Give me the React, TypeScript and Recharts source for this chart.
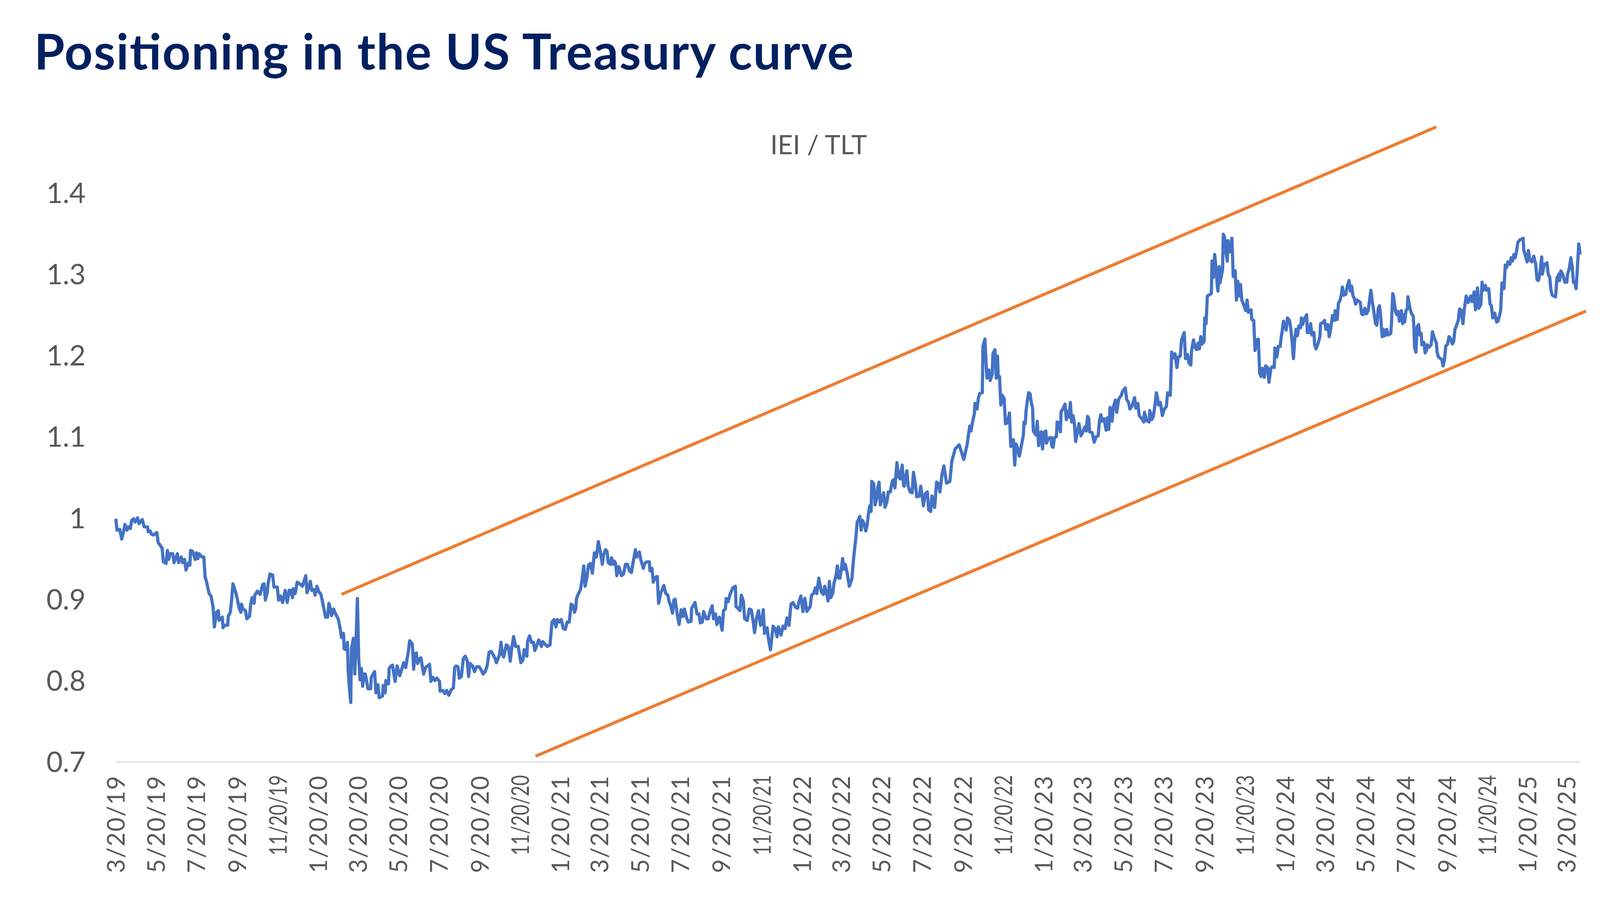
import React from 'react';
import { LineChart, Line, XAxis, YAxis, ReferenceLine } from 'recharts';

// x values are days since 3/20/19 (first observation); y values are the IEI / TLT ratio
const s2019: [number, number][] = [
  [0,0.999],[2,0.985],[6,0.986],[9,0.974],[12,0.984],[14,0.992],[17,0.985],[19,0.989],[22,0.987],[24,0.997],[27,0.999],[29,0.995],[33,1.000],[35,0.993],[40,0.998],[43,0.989],[48,0.989],[49,0.983],[52,0.984],[54,0.980],[57,0.979],[62,0.982],[64,0.970],[70,0.963],[72,0.946],[76,0.944],[78,0.960],[80,0.949],[82,0.956],[86,0.956],[88,0.945],[93,0.956],[95,0.945],[99,0.952],[101,0.945],[104,0.949],[106,0.936],[110,0.945],[112,0.942],[113,0.960],[116,0.959],[120,0.949],[122,0.957],[124,0.950],[126,0.956],[130,0.952],[133,0.952],[135,0.927],[137,0.922],[141,0.907],[144,0.904],[147,0.890],[149,0.866],[152,0.884],[155,0.886],[156,0.874],[161,0.878],[162,0.865],[165,0.868],[169,0.868],[170,0.879],[173,0.884],[175,0.899],[177,0.919],[181,0.909],[184,0.899],[186,0.890],[189,0.884],[190,0.894],[192,0.888],[196,0.886],[198,0.876],[202,0.879],[204,0.895],[206,0.902],[209,0.895],[210,0.905],[214,0.910],[218,0.906],[222,0.918],[224,0.919],[226,0.899],[229,0.909],[230,0.919],[233,0.931],[237,0.930],[239,0.915],[244,0.915],[246,0.899],[249,0.904],[252,0.896],[256,0.911],[259,0.896],[262,0.911],[264,0.911],[267,0.902],[268,0.913],[271,0.907],[274,0.921],[278,0.919],[282,0.916],[287,0.929],[289,0.908],[294,0.922],[296,0.911],[299,0.912],[301,0.905],[304,0.916],[307,0.909],[310,0.906]
];
const s2020: [number, number][] = [
  [314,0.890],[317,0.878],[320,0.878],[322,0.895],[324,0.889],[326,0.880],[329,0.888],[332,0.882],[336,0.876],[339,0.864],[341,0.853],[344,0.858],[345,0.839],[348,0.838],[350,0.847],[351,0.813],[353,0.790],[355,0.773],[356,0.839],[359,0.852],[361,0.808],[363,0.849],[365,0.901],[367,0.827],[369,0.801],[371,0.815],[373,0.793],[375,0.808],[377,0.808],[381,0.790],[385,0.790],[386,0.804],[391,0.811],[393,0.785],[396,0.795],[398,0.779],[403,0.781],[404,0.794],[407,0.785],[408,0.800],[412,0.796],[413,0.815],[416,0.818],[418,0.819],[422,0.799],[425,0.818],[429,0.806],[435,0.822],[438,0.816],[442,0.836],[444,0.849],[448,0.845],[450,0.814],[452,0.833],[454,0.834],[456,0.821],[459,0.827],[461,0.828],[465,0.808],[468,0.816],[471,0.818],[474,0.820],[476,0.799],[479,0.804],[482,0.800],[485,0.803],[489,0.799],[490,0.787],[494,0.788],[497,0.784],[500,0.788],[503,0.782],[507,0.789],[510,0.791],[512,0.816],[514,0.818],[517,0.817],[519,0.803],[522,0.805],[525,0.827],[528,0.830],[531,0.824],[533,0.805],[535,0.821],[539,0.818],[542,0.811],[545,0.817],[549,0.817],[552,0.813],[555,0.808],[558,0.811],[561,0.818],[564,0.835],[567,0.836],[570,0.832],[573,0.827],[575,0.822],[578,0.828],[580,0.833],[582,0.847],[584,0.832],[586,0.829],[590,0.844],[593,0.842],[596,0.824],[598,0.839],[601,0.854],[604,0.842],[608,0.842],[612,0.822],[615,0.825],[617,0.838],[621,0.830],[622,0.848],[625,0.855],[628,0.847]
];
const s2021: [number, number][] = [
  [631,0.847],[633,0.837],[635,0.841],[639,0.850],[643,0.842],[645,0.848],[648,0.845],[652,0.842],[656,0.844],[659,0.872],[662,0.875],[665,0.866],[667,0.875],[670,0.872],[673,0.875],[676,0.864],[679,0.863],[682,0.872],[685,0.872],[688,0.894],[691,0.892],[693,0.884],[695,0.889],[696,0.901],[699,0.907],[702,0.912],[704,0.922],[707,0.941],[709,0.916],[712,0.928],[714,0.942],[717,0.944],[720,0.932],[723,0.957],[726,0.952],[729,0.971],[732,0.958],[735,0.943],[737,0.955],[740,0.961],[742,0.959],[744,0.945],[747,0.943],[749,0.951],[751,0.943],[753,0.947],[755,0.944],[757,0.929],[760,0.940],[764,0.929],[767,0.931],[770,0.943],[773,0.943],[776,0.935],[779,0.933],[781,0.943],[785,0.961],[787,0.952],[791,0.958],[793,0.949],[797,0.938],[799,0.944],[802,0.946],[806,0.946],[807,0.935],[810,0.938],[812,0.921],[815,0.927],[818,0.928],[820,0.895],[823,0.907],[828,0.917],[831,0.907],[834,0.905],[836,0.897],[838,0.893],[841,0.883],[843,0.899],[845,0.900],[848,0.882],[851,0.869],[854,0.887],[857,0.879],[859,0.888],[862,0.878],[865,0.872],[869,0.873],[870,0.889],[873,0.893],[875,0.896],[878,0.882],[881,0.882],[883,0.871],[886,0.872],[888,0.885],[892,0.876],[895,0.876],[898,0.886],[901,0.892],[903,0.876],[906,0.882],[908,0.869],[912,0.878],[916,0.862],[918,0.886],[921,0.888],[922,0.901],[925,0.897],[928,0.906],[932,0.914],[936,0.916],[937,0.891],[940,0.889],[943,0.886],[945,0.905],[948,0.898],[950,0.876],[954,0.874],[957,0.888]
];
const s2022a: [number, number][] = [
  [960,0.887],[963,0.872],[965,0.859],[968,0.877],[971,0.886],[974,0.868],[976,0.870],[978,0.887],[980,0.858],[984,0.865],[986,0.851],[989,0.838],[993,0.867],[996,0.864],[999,0.854],[1001,0.866],[1005,0.856],[1008,0.867],[1011,0.864],[1014,0.877],[1017,0.868],[1020,0.894],[1023,0.896],[1027,0.890],[1030,0.889],[1032,0.897],[1035,0.904],[1038,0.885],[1041,0.901],[1044,0.885],[1049,0.891],[1051,0.905],[1054,0.907],[1057,0.914],[1059,0.907],[1062,0.926],[1066,0.909],[1069,0.906],[1071,0.916],[1074,0.907],[1076,0.898],[1078,0.922],[1080,0.902],[1083,0.907],[1085,0.920],[1088,0.929],[1090,0.941],[1092,0.926],[1094,0.926],[1096,0.937],[1098,0.950],[1100,0.937],[1102,0.943],[1105,0.932],[1108,0.916],[1112,0.925],[1114,0.945],[1116,0.961],[1118,0.976],[1120,0.995],[1122,0.998],[1124,1.002],[1126,0.985],[1128,0.997],[1131,0.992],[1133,0.984],[1135,0.991],[1137,1.005],[1139,1.015],[1141,1.008],[1142,1.045],[1145,1.042],[1147,1.016],[1150,1.026],[1151,1.037],[1153,1.044],[1155,1.016],[1158,1.026],[1160,1.031],[1162,1.013],[1165,1.020],[1167,1.032],[1170,1.032],[1173,1.045],[1175,1.047],[1177,1.037],[1180,1.068],[1183,1.050],[1185,1.048],[1188,1.065],[1190,1.040],[1191,1.039],[1195,1.058],[1197,1.039],[1200,1.032],[1203,1.031],[1205,1.056],[1208,1.041],[1210,1.026],[1214,1.027],[1216,1.039],[1218,1.028],[1220,1.015],[1223,1.030],[1226,1.032],[1228,1.010],[1231,1.008],[1233,1.027],[1237,1.013],[1240,1.044],[1243,1.042],[1245,1.032],[1248,1.053],[1251,1.064],[1255,1.043],[1258,1.044],[1260,1.045],[1263,1.070],[1268,1.085],[1274,1.090],[1281,1.072],[1286,1.090]
];
const s2022b: [number, number][] = [
  [1290,1.113],[1292,1.107],[1294,1.117],[1297,1.128],[1298,1.141],[1301,1.134],[1303,1.147],[1305,1.153],[1309,1.154],[1310,1.211],[1313,1.220],[1315,1.185],[1316,1.172],[1319,1.182],[1321,1.169],[1324,1.177],[1325,1.202],[1328,1.207],[1330,1.172],[1332,1.199],[1333,1.173],[1335,1.174],[1337,1.139],[1339,1.151],[1342,1.147],[1344,1.116],[1347,1.117],[1350,1.129],[1352,1.088],[1354,1.096],[1356,1.096],[1358,1.065],[1360,1.091],[1362,1.087],[1365,1.076],[1368,1.089],[1371,1.102],[1372,1.118],[1374,1.116],[1375,1.131],[1377,1.144],[1379,1.154],[1381,1.153],[1383,1.142],[1385,1.135],[1386,1.107],[1390,1.102],[1392,1.119],[1394,1.089],[1396,1.096],[1398,1.106],[1400,1.085],[1402,1.105],[1405,1.107],[1406,1.092],[1409,1.098],[1413,1.099],[1414,1.088],[1416,1.087],[1418,1.099],[1421,1.100],[1422,1.118],[1425,1.117],[1427,1.106],[1428,1.131],[1430,1.133],[1434,1.140],[1436,1.121],[1438,1.131],[1440,1.124],[1442,1.142],[1444,1.118],[1446,1.126],[1448,1.117],[1450,1.094],[1452,1.103],[1455,1.116],[1458,1.101],[1461,1.106],[1464,1.112],[1466,1.107],[1468,1.125],[1470,1.122],[1471,1.106],[1475,1.105],[1478,1.093],[1481,1.100],[1484,1.101],[1486,1.119],[1488,1.127],[1490,1.119],[1493,1.122],[1496,1.108],[1498,1.123],[1500,1.109],[1502,1.136],[1505,1.119],[1507,1.136],[1510,1.145],[1512,1.130],[1515,1.146],[1519,1.151],[1521,1.156],[1525,1.160],[1527,1.146],[1530,1.142],[1532,1.134],[1535,1.137],[1539,1.148],[1541,1.135],[1544,1.141],[1546,1.126],[1550,1.122],[1553,1.118],[1554,1.130],[1557,1.120],[1561,1.118],[1562,1.132],[1565,1.121],[1567,1.124],[1569,1.134],[1572,1.154],[1574,1.146],[1575,1.139],[1578,1.142],[1581,1.126],[1584,1.134],[1587,1.137],[1589,1.154],[1593,1.151],[1595,1.204],[1598,1.197],[1600,1.202],[1603,1.185],[1605,1.198],[1608,1.199],[1610,1.219],[1614,1.228],[1616,1.196]
];
const s2023: [number, number][] = [
  [1619,1.201],[1621,1.191],[1624,1.188],[1625,1.205],[1628,1.219],[1631,1.209],[1633,1.207],[1635,1.215],[1637,1.208],[1639,1.223],[1641,1.214],[1644,1.217],[1645,1.246],[1647,1.239],[1649,1.273],[1653,1.275],[1655,1.276],[1656,1.316],[1658,1.296],[1660,1.324],[1662,1.308],[1664,1.285],[1665,1.279],[1667,1.309],[1668,1.289],[1670,1.297],[1672,1.306],[1673,1.349],[1675,1.345],[1677,1.328],[1679,1.316],[1680,1.341],[1682,1.327],[1683,1.332],[1686,1.344],[1687,1.323],[1688,1.297],[1691,1.304],[1693,1.268],[1695,1.291],[1698,1.273],[1699,1.287],[1701,1.268],[1703,1.264],[1705,1.259],[1707,1.255],[1709,1.268],[1711,1.253],[1715,1.256],[1716,1.244],[1719,1.243],[1721,1.206],[1724,1.219],[1726,1.220],[1728,1.178],[1730,1.174],[1732,1.184],[1735,1.173],[1737,1.187],[1740,1.185],[1742,1.167],[1745,1.184],[1747,1.186],[1750,1.185],[1751,1.209],[1754,1.198],[1756,1.211],[1759,1.211],[1760,1.219],[1762,1.230],[1764,1.242],[1766,1.236],[1768,1.231],[1770,1.246],[1773,1.243],[1775,1.233],[1777,1.217],[1779,1.196],[1781,1.220],[1783,1.232],[1785,1.224],[1787,1.236],[1790,1.234],[1791,1.246],[1793,1.238],[1795,1.244],[1799,1.250],[1800,1.228],[1803,1.228],[1805,1.239],[1807,1.225],[1810,1.228],[1811,1.213],[1813,1.208],[1816,1.214],[1819,1.223],[1820,1.239],[1823,1.240],[1826,1.243],[1828,1.232],[1831,1.238],[1833,1.223],[1835,1.231],[1838,1.249],[1841,1.243],[1842,1.255],[1845,1.244],[1847,1.264],[1849,1.267],[1851,1.273],[1853,1.284],[1855,1.274],[1858,1.275],[1860,1.284],[1863,1.292],[1865,1.279],[1867,1.285],[1869,1.273],[1871,1.270],[1873,1.263],[1875,1.268],[1877,1.267],[1880,1.265],[1882,1.251],[1884,1.250],[1887,1.258],[1889,1.251],[1892,1.255],[1894,1.268],[1896,1.280],[1898,1.267],[1900,1.256],[1903,1.239],[1905,1.237],[1907,1.257],[1909,1.261],[1911,1.246],[1913,1.223],[1915,1.232],[1917,1.224],[1920,1.232],[1922,1.225]
];
const s2024: [number, number][] = [
  [1926,1.227],[1927,1.238],[1929,1.276],[1930,1.274],[1933,1.255],[1935,1.250],[1937,1.254],[1939,1.242],[1942,1.255],[1944,1.239],[1946,1.250],[1947,1.241],[1949,1.255],[1951,1.257],[1952,1.272],[1955,1.258],[1957,1.252],[1960,1.248],[1961,1.233],[1962,1.210],[1964,1.204],[1966,1.235],[1968,1.238],[1970,1.225],[1972,1.227],[1973,1.213],[1976,1.216],[1978,1.203],[1980,1.206],[1981,1.213],[1984,1.210],[1987,1.213],[1989,1.229],[1992,1.221],[1995,1.215],[1996,1.204],[1998,1.198],[2001,1.196],[2003,1.195],[2005,1.187],[2007,1.193],[2009,1.211],[2012,1.214],[2014,1.223],[2016,1.221],[2019,1.214],[2021,1.217],[2023,1.232],[2025,1.236],[2028,1.243],[2030,1.257],[2032,1.256],[2035,1.239],[2037,1.256],[2040,1.273],[2043,1.265],[2047,1.273],[2049,1.266],[2052,1.278],[2054,1.256],[2057,1.283],[2059,1.258],[2062,1.262],[2064,1.290],[2066,1.280],[2069,1.286],[2071,1.280],[2074,1.282],[2076,1.263],[2078,1.261],[2080,1.246],[2083,1.252],[2086,1.241],[2088,1.242],[2090,1.248],[2092,1.255],[2094,1.289],[2097,1.282],[2099,1.311],[2101,1.308],[2103,1.315],[2106,1.312],[2108,1.320],[2110,1.316],[2112,1.324],[2114,1.320],[2116,1.328],[2118,1.339],[2121,1.342],[2124,1.343],[2126,1.344],[2127,1.329],[2129,1.324],[2132,1.315],[2134,1.329],[2136,1.317],[2139,1.315],[2142,1.322],[2145,1.312],[2147,1.293],[2149,1.292],[2151,1.299],[2154,1.321],[2155,1.300],[2158,1.312],[2160,1.312],[2162,1.314],[2164,1.299],[2166,1.297],[2168,1.280],[2170,1.274],[2172,1.273],[2175,1.272],[2177,1.295],[2180,1.300],[2181,1.292],[2183,1.304],[2186,1.299],[2189,1.290],[2192,1.290],[2193,1.299],[2196,1.308],[2198,1.320],[2200,1.309],[2202,1.290],[2204,1.290],[2206,1.282],[2208,1.308],[2210,1.337],[2212,1.324]
];

// channel lines drawn on the chart (start / end in data coordinates)
const upperChannel = [{ day: 341, ratio: 0.906 }, { day: 1995, ratio: 1.481 }];
const lowerChannel = [{ day: 634, ratio: 0.707 }, { day: 2221, ratio: 1.2545 }];

const xTickLabels = [
  '3/20/19','5/20/19','7/20/19','9/20/19','11/20/19','1/20/20','3/20/20','5/20/20','7/20/20','9/20/20','11/20/20',
  '1/20/21','3/20/21','5/20/21','7/20/21','9/20/21','11/20/21','1/20/22','3/20/22','5/20/22','7/20/22','9/20/22','11/20/22',
  '1/20/23','3/20/23','5/20/23','7/20/23','9/20/23','11/20/23','1/20/24','3/20/24','5/20/24','7/20/24','9/20/24','11/20/24',
  '1/20/25','3/20/25'
];
const yTickLabels = ['0.7', '0.8', '0.9', '1', '1.1', '1.2', '1.3', '1.4'];

const TITLE = 'Positioning in the US Treasury curve';
const SUBTITLE = 'IEI / TLT';

const START = Date.UTC(2019, 2, 20);
const labelToDay = (s: string) => {
  const [m, d, y] = s.split('/').map(Number);
  return Math.round((Date.UTC(2000 + y, m - 1, d) - START) / 86400000);
};
const xTicks = xTickLabels.map(labelToDay);
const dayLabel = new Map<number, string>(xTicks.map((d, i) => [d, xTickLabels[i]]));
const yTicks = yTickLabels.map(Number);
const yLabel = new Map<number, string>(yTicks.map((v, i) => [v, yTickLabels[i]]));

const data = [...s2019, ...s2020, ...s2021, ...s2022a, ...s2022b, ...s2023, ...s2024].map(([day, ratio]) => ({ day, ratio }));

const FONT = 'Lato, Carlito, "Noto Sans", sans-serif';
const GREY = '#595959';
const W = 4257;
const H = 2346;

const XTick = (props: any) => {
  const { x, y, payload } = props;
  const ty = y + 35;
  const label = dayLabel.get(payload.value) ?? '';
  const long = label.length > 7;
  return (
    <text x={x} y={ty} dy="0.36em" transform={`rotate(-90 ${x} ${ty})`} textAnchor="end"
      fontFamily={FONT} fontSize={64} letterSpacing={long ? 0 : 2.5}
      textLength={long ? 214 : undefined} lengthAdjust={long ? 'spacingAndGlyphs' : undefined} fill={GREY}>
      {label}
    </text>
  );
};

const YTick = (props: any) => {
  const { x, y, payload } = props;
  return (
    <text x={x - 80} y={y} dy="0.36em" textAnchor="end" fontFamily={FONT} fontSize={75} fill={GREY}>
      {yLabel.get(payload.value) ?? String(payload.value)}
    </text>
  );
};

export default function App() {
  const vw = typeof window !== 'undefined' && window.innerWidth ? window.innerWidth : W;
  const s = vw / W;
  return (
    <div style={{ position: 'relative', width: W * s, height: H * s, overflow: 'hidden', background: '#ffffff' }}>
      <style>{'html,body{margin:0;padding:0;overflow:hidden;}'}</style>
      <div style={{ position: 'absolute', left: 0, top: 0, width: W, height: H, transform: `scale(${s})`, transformOrigin: '0 0' }}>
        <LineChart width={W} height={H} data={data} margin={{ top: 513, right: 53, bottom: 0, left: 0 }}>
          <XAxis dataKey="day" type="number" domain={[0, 2212]} ticks={xTicks} interval={0}
            height={318} tickSize={0} tickMargin={0} tickLine={false}
            axisLine={{ stroke: '#D9D9D9', strokeWidth: 3 }} tick={<XTick />} />
          <YAxis type="number" domain={[0.7, 1.4]} ticks={yTicks} interval={0} width={308}
            tickSize={0} tickMargin={0} tickLine={false} axisLine={false} tick={<YTick />} />
          <Line type="linear" dataKey="ratio" stroke="#4472C4" strokeWidth={8.5} dot={false}
            activeDot={false} isAnimationActive={false} strokeLinejoin="round" />
          <ReferenceLine segment={[{ x: upperChannel[0].day, y: upperChannel[0].ratio }, { x: upperChannel[1].day, y: upperChannel[1].ratio }]}
            stroke="#ED7D31" strokeWidth={8} ifOverflow="visible" />
          <ReferenceLine segment={[{ x: lowerChannel[0].day, y: lowerChannel[0].ratio }, { x: lowerChannel[1].day, y: lowerChannel[1].ratio }]}
            stroke="#ED7D31" strokeWidth={8} ifOverflow="visible" />
        </LineChart>
        <svg width={W} height={H} style={{ position: 'absolute', left: 0, top: 0, pointerEvents: 'none' }}>
          <text x={91} y={185} textLength={2180} lengthAdjust="spacing" fontFamily={FONT} fontWeight={700}
            fontSize={131} fill="#002060">{TITLE}</text>
          <text x={2178} y={411} textAnchor="middle" fontFamily={FONT} fontSize={70} fill={GREY}>{SUBTITLE}</text>
        </svg>
      </div>
    </div>
  );
}
